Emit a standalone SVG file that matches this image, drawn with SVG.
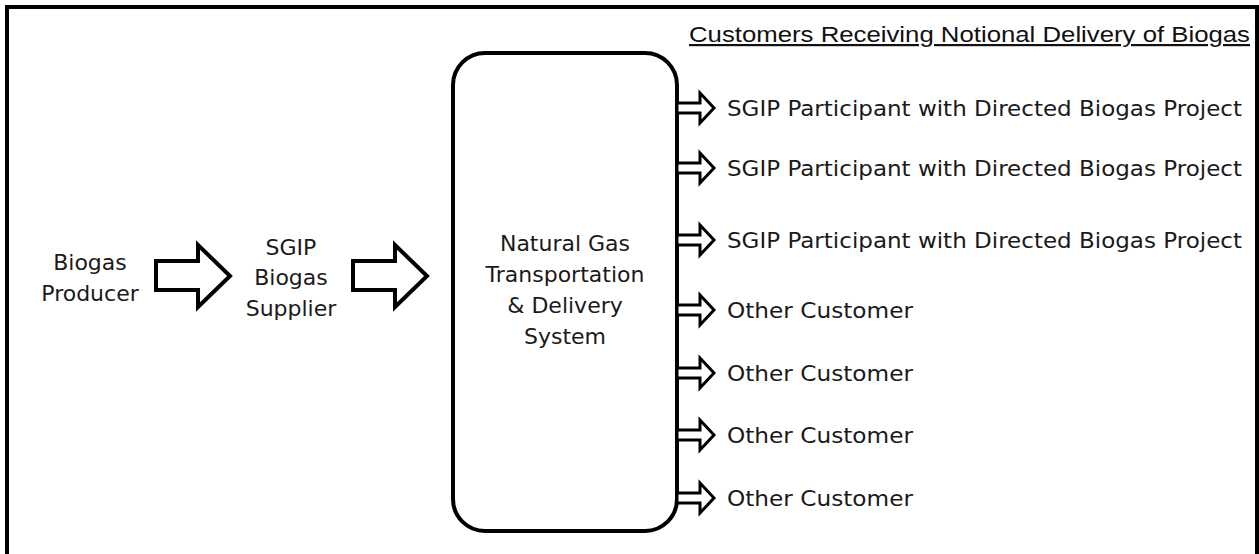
<svg xmlns="http://www.w3.org/2000/svg" width="1259" height="554" viewBox="0 0 1259 554">
<defs>
<style>
.t{font-family:"DejaVu Sans","Liberation Sans",sans-serif;font-size:22px;fill:#1a1a1a}
.r{font-size:21px}
.c{text-anchor:middle}
.title{font-family:"Liberation Sans",sans-serif;font-size:22px;fill:#111;text-decoration:underline}
.big{fill:#fff;stroke:#000;stroke-width:4;stroke-linejoin:miter}
.sm{fill:#fff;stroke:#000;stroke-width:3;stroke-linejoin:miter}
</style>
<path id="sa" d="M0,-5 H23 V-15 L37,0 L23,15 V5 H0 Z"/>
</defs>
<rect x="7" y="7" width="1250" height="570" fill="#fff" stroke="#000" stroke-width="4"/>
<g id="title"><text class="title" x="689" y="42" textLength="561" lengthAdjust="spacingAndGlyphs">Customers Receiving Notional Delivery of Biogas</text></g>
<g id="producer"><text class="t c" x="90" y="270">Biogas</text><text class="t c" x="90" y="301">Producer</text></g>
<g id="supplier"><text class="t c" x="291" y="255">SGIP</text><text class="t c" x="291" y="285">Biogas</text><text class="t c" x="291" y="316">Supplier</text></g>
<g id="system"><rect x="453" y="53" width="224" height="478" rx="32" fill="#fff" stroke="#000" stroke-width="4"/>
<text class="t c" x="565" y="251">Natural Gas</text><text class="t c" x="565" y="282">Transportation</text><text class="t c" x="565" y="313">&amp; Delivery</text><text class="t c" x="565" y="344">System</text></g>
<g id="connectors">
<path class="big" d="M156,261 H198 V245 L230,276 L198,307 V290 H156 Z"/>
<path class="big" d="M353,261 H395 V245 L427,276 L395,307 V290 H353 Z"/>
<use href="#sa" class="sm" x="677" y="108"/>
<use href="#sa" class="sm" x="677" y="168"/>
<use href="#sa" class="sm" x="677" y="240"/>
<use href="#sa" class="sm" x="677" y="310"/>
<use href="#sa" class="sm" x="677" y="373"/>
<use href="#sa" class="sm" x="677" y="435"/>
<use href="#sa" class="sm" x="677" y="498"/>
</g>
<g id="c1"><text class="t r" x="727" y="116" textLength="515" lengthAdjust="spacingAndGlyphs">SGIP Participant with Directed Biogas Project</text></g>
<g id="c2"><text class="t r" x="727" y="176" textLength="515" lengthAdjust="spacingAndGlyphs">SGIP Participant with Directed Biogas Project</text></g>
<g id="c3"><text class="t r" x="727" y="248" textLength="515" lengthAdjust="spacingAndGlyphs">SGIP Participant with Directed Biogas Project</text></g>
<g id="c4"><text class="t r" x="727" y="318" textLength="186" lengthAdjust="spacingAndGlyphs">Other Customer</text></g>
<g id="c5"><text class="t r" x="727" y="381" textLength="186" lengthAdjust="spacingAndGlyphs">Other Customer</text></g>
<g id="c6"><text class="t r" x="727" y="443" textLength="186" lengthAdjust="spacingAndGlyphs">Other Customer</text></g>
<g id="c7"><text class="t r" x="727" y="506" textLength="186" lengthAdjust="spacingAndGlyphs">Other Customer</text></g>
</svg>
